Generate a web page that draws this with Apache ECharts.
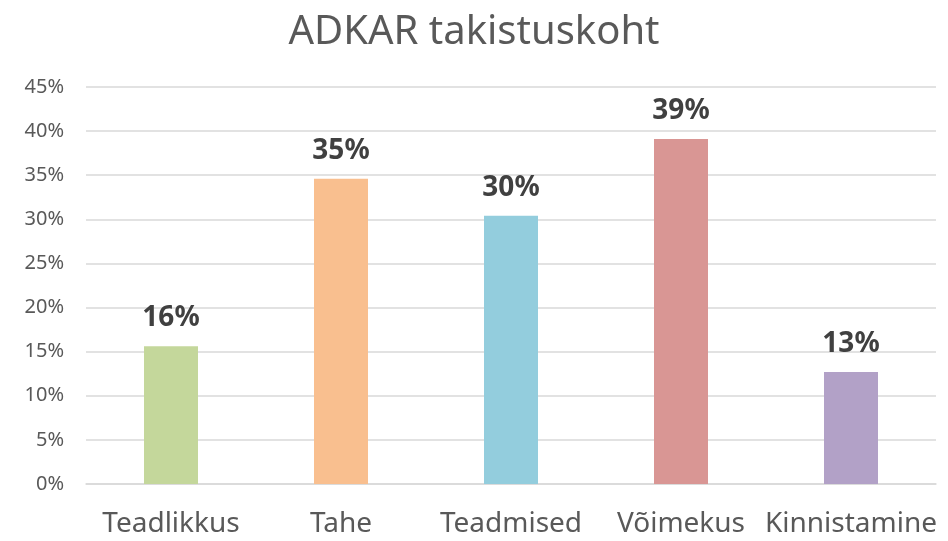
<!DOCTYPE html>
<html>
<head>
<meta charset="utf-8">
<script src="https://cdn.jsdelivr.net/npm/echarts@6/dist/echarts.min.js"></script>
<style>
  html, body { margin: 0; padding: 0; background: #fff; }
  #chart { width: 948px; height: 541px; }
</style>
</head>
<body>
<div id="chart"></div>
<script>
var categories = ['Teadlikkus', 'Tahe', 'Teadmised', 'Võimekus', 'Kinnistamine']
var values = [15.6, 34.6, 30.4, 39.1, 12.7]
var barColors = ['#C4D79B', '#F9BF8F', '#93CDDD', '#D99694', '#B2A1C7']
var yTicks = { min: 0, max: 45, interval: 5 }

var chart = echarts.init(document.getElementById('chart'))
chart.setOption({
  animation: false,
  textStyle: { fontFamily: 'Noto Sans' },
  title: {
    text: 'ADKAR takistuskoht',
    left: 'center',
    top: 8,
    textStyle: {
      color: '#595959',
      fontWeight: 'normal',
      fontSize: 40,
      fontFamily: 'Noto Sans'
    }
  },
  grid: {
    left: 86,
    right: 12,
    top: 87,
    bottom: 57,
    containLabel: false
  },
  xAxis: {
    type: 'category',
    data: categories,
    axisTick: { show: false },
    axisLine: { lineStyle: { color: '#d9d9d9', width: 1.5 } },
    axisLabel: {
      color: '#595959',
      fontSize: 28,
      margin: 26,
      interval: 0
    }
  },
  yAxis: {
    type: 'value',
    min: yTicks.min,
    max: yTicks.max,
    interval: yTicks.interval,
    axisLine: { show: false },
    axisTick: { show: false },
    splitLine: { lineStyle: { color: '#d9d9d9', width: 1.5 } },
    axisLabel: {
      color: '#595959',
      fontSize: 20,
      margin: 22,
      formatter: function (v) { return v + '%' }
    }
  },
  series: [{
    type: 'bar',
    barWidth: 54,
    data: values.map(function (v, i) {
      return { value: v, itemStyle: { color: barColors[i] } }
    }),
    label: {
      show: true,
      position: 'top',
      distance: 14,
      color: '#404040',
      fontWeight: 'bold',
      fontSize: 28,
      formatter: function (p) { return Math.round(p.value) + '%' }
    }
  }]
})
</script>
</body>
</html>
